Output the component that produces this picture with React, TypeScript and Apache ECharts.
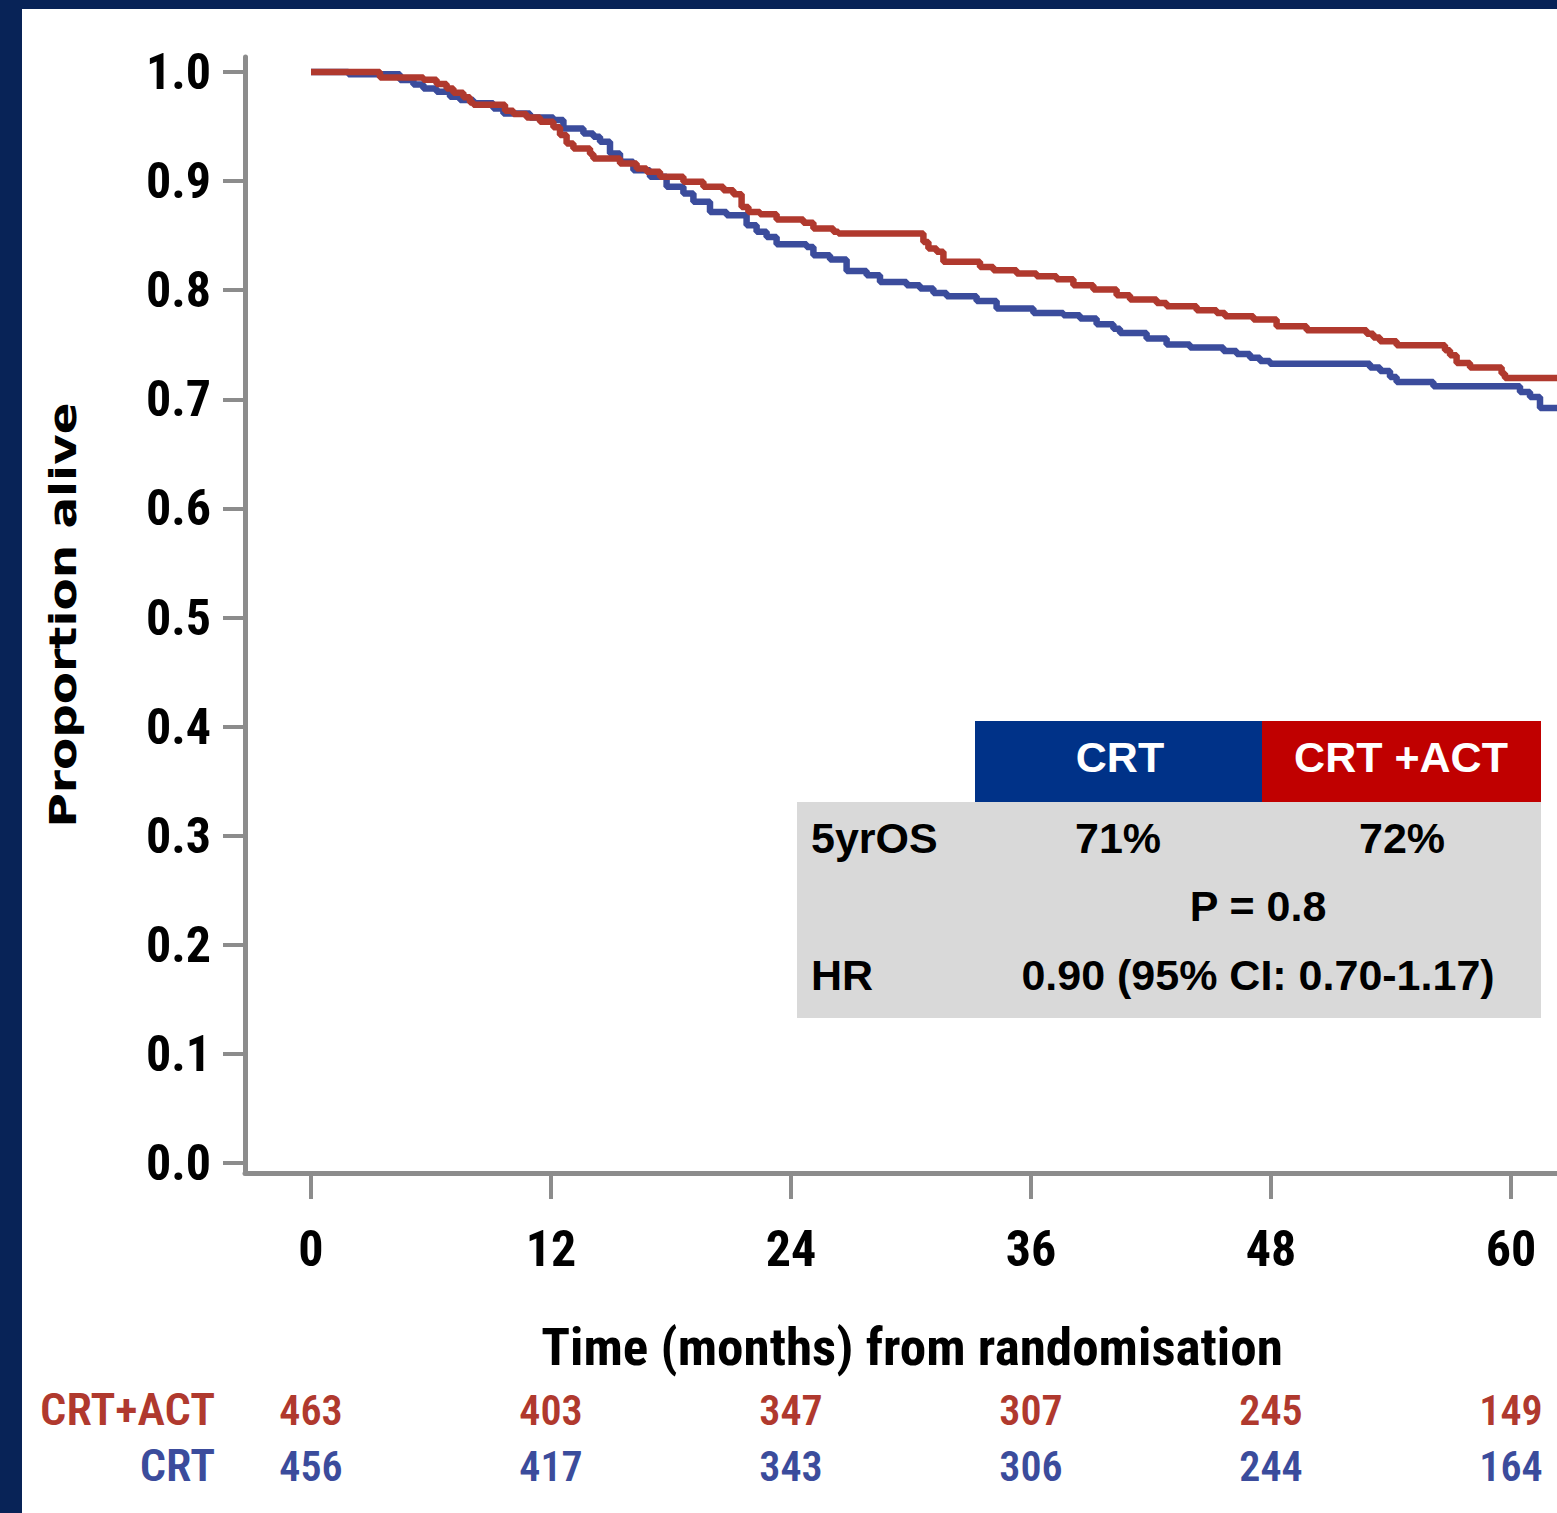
import React, { useEffect, useRef } from "react";
import * as echarts from "echarts";

const tickMonths = [0, 12, 24, 36, 48, 60];
const yTicks = [0, 0.1, 0.2, 0.3, 0.4, 0.5, 0.6, 0.7, 0.8, 0.9, 1.0];

const riskCrtAct = [463, 403, 347, 307, 245, 149];
const riskCrt = [456, 417, 343, 306, 244, 164];

// [month, proportion alive]
const crtActCurve: [number, number][] = [
  [0, 1.0], [3.45, 0.995], [5.62, 0.993], [6.28, 0.989], [6.78, 0.985], [7.12, 0.981],
  [7.62, 0.977], [7.95, 0.972], [8.12, 0.97], [9.7, 0.9645], [10.12, 0.9615], [10.78, 0.9584],
  [11.45, 0.9544], [12.12, 0.9493], [12.45, 0.9422], [12.78, 0.9346], [13.12, 0.93],
  [13.95, 0.9248], [14.12, 0.9208], [15.45, 0.9162], [16.28, 0.9116], [16.78, 0.9085],
  [17.45, 0.904], [18.62, 0.8994], [19.62, 0.8948], [20.62, 0.8917], [21.12, 0.888],
  [21.53, 0.8764], [21.87, 0.8718], [22.45, 0.8697], [23.28, 0.8648], [24.62, 0.8618],
  [25.12, 0.8566], [26.12, 0.8535], [26.37, 0.852], [30.62, 0.8443], [30.87, 0.8382],
  [31.28, 0.8352], [31.62, 0.826], [33.45, 0.8214], [34.12, 0.8183], [35.28, 0.8153],
  [36.28, 0.8128], [37.28, 0.81], [38.12, 0.8046], [39.12, 0.8006], [40.28, 0.7954],
  [40.95, 0.7914], [42.28, 0.7884], [42.78, 0.7853], [44.28, 0.7817], [45.28, 0.7792],
  [45.7, 0.7761], [47.12, 0.7731], [48.28, 0.767], [49.78, 0.7633], [52.78, 0.7602],
  [53.12, 0.7566], [53.45, 0.7532], [54.28, 0.7495], [56.7, 0.745], [56.95, 0.7404],
  [57.28, 0.7333], [57.95, 0.7291], [59.53, 0.7236], [59.7, 0.7196], [62.3, 0.7196],
];

const crtCurve: [number, number][] = [
  [0, 1.0], [1.87, 0.998], [4.45, 0.9927], [5.12, 0.9887], [5.62, 0.985], [6.28, 0.982],
  [6.95, 0.9774], [7.45, 0.9743], [8.12, 0.9713], [9.12, 0.9667], [9.62, 0.962],
  [10.95, 0.9584], [12.12, 0.956], [12.62, 0.9483], [13.62, 0.9437], [14.12, 0.9407],
  [14.45, 0.9361], [14.95, 0.9254], [15.45, 0.9177], [16.12, 0.9101], [16.95, 0.904],
  [17.78, 0.8948], [18.62, 0.8887], [19.12, 0.881], [19.95, 0.8718], [20.78, 0.8688],
  [21.78, 0.8596], [22.28, 0.8535], [22.78, 0.8489], [23.28, 0.8422], [24.78, 0.8397],
  [25.12, 0.8321], [25.95, 0.8281], [26.78, 0.8177], [27.78, 0.8138], [28.45, 0.8076],
  [29.78, 0.8046], [30.45, 0.8015], [31.12, 0.7975], [31.78, 0.7945], [33.28, 0.7902],
  [34.28, 0.7832], [36.12, 0.7792], [37.62, 0.7771], [38.45, 0.774], [39.28, 0.7688],
  [40.12, 0.7648], [40.45, 0.7608], [41.78, 0.7557], [42.78, 0.7502], [43.95, 0.7474],
  [45.62, 0.7443], [46.28, 0.7416], [46.95, 0.7382], [47.45, 0.7352], [47.95, 0.7327],
  [52.95, 0.7291], [53.45, 0.726], [53.95, 0.7205], [54.28, 0.7159], [56.12, 0.7119],
  [60.45, 0.7067], [60.95, 0.7021], [61.45, 0.6921], [62.3, 0.6921],
];

const tableHeaders = ["CRT", "CRT +ACT"];
const fiveYearOS = ["71%", "72%"];
const pValueText = "P = 0.8";
const hrText = "0.90 (95% CI: 0.70-1.17)";
const xTitle = "Time (months) from randomisation";
const yTitle = "Proportion alive";
const riskLabels = ["CRT+ACT", "CRT"];

const RED = "#b0392e";
const BLUE = "#3b4c9c";
const AXIS = "#8c8c8c";
const NARROW = "'Noto Sans Condensed', 'Roboto Condensed', 'DejaVu Sans Condensed', sans-serif";
const ARIAL = "'Liberation Sans', Arial, sans-serif";

function measure(text: string, font: string): number {
  const ctx = document.createElement("canvas").getContext("2d");
  if (!ctx) return 1;
  ctx.font = font;
  return ctx.measureText(text).width || 1;
}

export default function App() {
  const ref = useRef<HTMLDivElement>(null);
  useEffect(() => {
    if (!ref.current) return;
    const chart = echarts.init(ref.current, undefined, { renderer: "svg" });

    const yTitleFont = `bold 37px 'DejaVu Sans', sans-serif`;
    const yTitleScale = 425 / measure(yTitle, yTitleFont);
    const xTitleFont = `bold 52px ${NARROW}`;
    const xTitleScale = 742 / measure(xTitle, xTitleFont);
    const riskFont = `600 44px ${NARROW}`;
    const riskScale = 175 / measure(riskLabels[0], riskFont);

    const riskAxis = (values: number[], color: string, offset: number) => ({
      type: "value",
      min: -3.3,
      max: 62.3,
      gridIndex: 0,
      position: "bottom",
      offset,
      axisLine: { show: false, onZero: false },
      axisTick: { show: false },
      splitLine: { show: false },
      axisLabel: {
        customValues: tickMonths,
        formatter: (v: number) => String(values[tickMonths.indexOf(v)] ?? ""),
        color,
        fontFamily: NARROW,
        fontWeight: 600,
        fontSize: 42,
        margin: 0,
        verticalAlign: "middle",
      },
    });
    const option: any = {
      animation: false,
      backgroundColor: "#ffffff",
      grid: { left: 245, right: 0, top: 57, bottom: 340 },
      xAxis: [
        {
          type: "value",
          min: -3.3,
          max: 62.3,
          axisLine: { onZero: false, lineStyle: { color: AXIS, width: 5 } },
          axisTick: { customValues: tickMonths, length: 26, lineStyle: { color: AXIS, width: 4 } },
          splitLine: { show: false },
          axisLabel: {
            customValues: tickMonths,
            color: "#000",
            fontFamily: NARROW,
            fontWeight: "bold",
            fontSize: 50,
            margin: 76,
            verticalAlign: "middle",
          },
        },
        riskAxis(riskCrtAct, RED, 237),
        riskAxis(riskCrt, BLUE, 293),
      ],
      yAxis: {
        type: "value",
        min: -0.0092,
        max: 1.0138,
        axisLine: { show: true, onZero: false, lineStyle: { color: AXIS, width: 5 } },
        axisTick: { show: true, customValues: yTicks, length: 22, lineStyle: { color: AXIS, width: 4 } },
        splitLine: { show: false },
        axisLabel: {
          customValues: yTicks,
          formatter: (v: number) => v.toFixed(1),
          color: "#000",
          fontFamily: NARROW,
          fontWeight: "bold",
          fontSize: 50,
          margin: 34,
        },
      },
      series: [
        {
          name: "CRT",
          type: "line",
          step: "end",
          symbol: "none",
          data: crtCurve,
          lineStyle: { color: BLUE, width: 6.5 },
          itemStyle: { color: BLUE },
          z: 2,
        },
        {
          name: "CRT+ACT",
          type: "line",
          step: "end",
          symbol: "none",
          data: crtActCurve,
          lineStyle: { color: RED, width: 6.5 },
          itemStyle: { color: RED },
          z: 3,
        },
      ],
      graphic: [
        { type: "rect", shape: { x: 0, y: 0, width: 1557, height: 9 }, style: { fill: "#082357" } },
        { type: "rect", shape: { x: 0, y: 0, width: 22, height: 1513 }, style: { fill: "#082357" } },
        {
          type: "text",
          x: 63,
          y: 615,
          rotation: Math.PI / 2,
          scaleX: yTitleScale,
          style: { text: yTitle, fill: "#000", font: yTitleFont, align: "center", verticalAlign: "middle" },
        },
        {
          type: "text",
          x: 912,
          y: 1347,
          scaleX: xTitleScale,
          style: { text: xTitle, fill: "#000", font: xTitleFont, align: "center", verticalAlign: "middle" },
        },
        {
          type: "text",
          x: 215,
          y: 1410,
          scaleX: riskScale,
          style: { text: riskLabels[0], fill: RED, font: riskFont, align: "right", verticalAlign: "middle" },
        },
        {
          type: "text",
          x: 215,
          y: 1466,
          scaleX: riskScale,
          style: { text: riskLabels[1], fill: BLUE, font: riskFont, align: "right", verticalAlign: "middle" },
        },
        // summary table
        { type: "rect", shape: { x: 797, y: 802, width: 744, height: 216 }, style: { fill: "#d9d9d9" } },
        { type: "rect", shape: { x: 975, y: 721, width: 287, height: 81 }, style: { fill: "#003288" } },
        { type: "rect", shape: { x: 1262, y: 721, width: 279, height: 81 }, style: { fill: "#c00000" } },
        {
          type: "text", x: 1120, y: 757,
          style: { text: tableHeaders[0], fill: "#fff", font: `bold 43px ${ARIAL}`, align: "center", verticalAlign: "middle" },
        },
        {
          type: "text", x: 1401, y: 757,
          style: { text: tableHeaders[1], fill: "#fff", font: `bold 43px ${ARIAL}`, align: "center", verticalAlign: "middle" },
        },
        {
          type: "text", x: 811, y: 838,
          style: { text: "5yrOS", fill: "#000", font: `bold 43px ${ARIAL}`, align: "left", verticalAlign: "middle" },
        },
        {
          type: "text", x: 1118, y: 838,
          style: { text: fiveYearOS[0], fill: "#000", font: `bold 43px ${ARIAL}`, align: "center", verticalAlign: "middle" },
        },
        {
          type: "text", x: 1402, y: 838,
          style: { text: fiveYearOS[1], fill: "#000", font: `bold 43px ${ARIAL}`, align: "center", verticalAlign: "middle" },
        },
        {
          type: "text", x: 1258, y: 906,
          style: { text: pValueText, fill: "#000", font: `bold 43px ${ARIAL}`, align: "center", verticalAlign: "middle" },
        },
        {
          type: "text", x: 811, y: 975,
          style: { text: "HR", fill: "#000", font: `bold 43px ${ARIAL}`, align: "left", verticalAlign: "middle" },
        },
        {
          type: "text", x: 1258, y: 975,
          style: { text: hrText, fill: "#000", font: `bold 43px ${ARIAL}`, align: "center", verticalAlign: "middle" },
        },
      ],
    };
    chart.setOption(option);
    return () => chart.dispose();
  }, []);
  return (
    <div
      ref={ref}
      style={{ position: "absolute", left: 0, top: 0, width: 1557, height: 1513, background: "#fff" }}
    />
  );
}
